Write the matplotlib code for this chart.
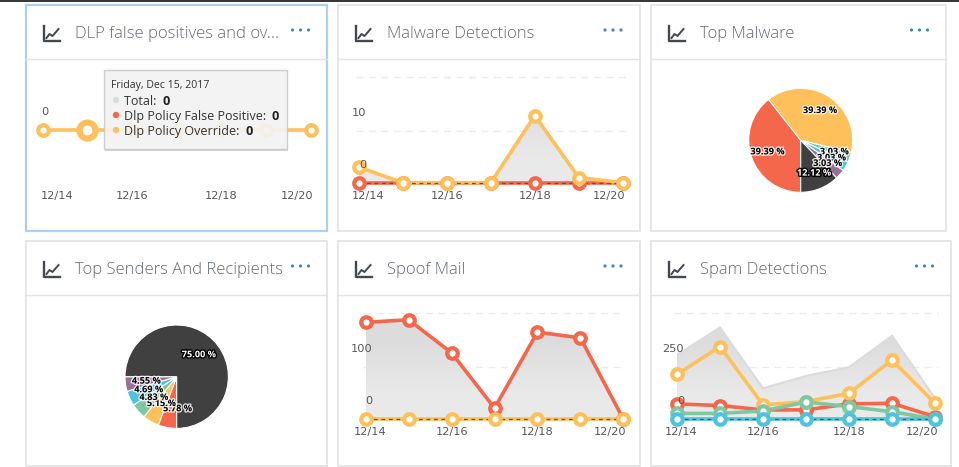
import matplotlib
matplotlib.use("Agg")
import matplotlib.pyplot as plt
import matplotlib.patheffects as pe
from matplotlib.colors import LinearSegmentedColormap
from matplotlib.patches import Rectangle, Circle
from matplotlib.transforms import Affine2D

W, H = 959, 467
plt.rcParams['font.family'] = ['Open Sans', 'DejaVu Sans']

RED = '#f4674a'
YELLOW = '#fec05a'
GREEN = '#7dc8a3'
BLUE = '#4cc4df'
PURPLE = '#9a6e9b'
DARK = '#404040'

days = [0, 1, 2, 3, 4, 5, 6]
date_ticks = [0, 2, 4, 6]
date_labels = ['12/14', '12/16', '12/18', '12/20']

dlp_override = [0, 0, 0, 0, 0, 0, 0]

malware_total = [3, 0, 0, 0, 13, 1, 0]
malware_red = [0, 0, 0, 0, 0, 0, 0]
malware_yellow = [3, 0, 0, 0, 13, 1, 0]

spoof_total = [187, 192, 128, 21, 168, 157, 0]
spoof_red = [187, 192, 128, 21, 168, 157, 0]
spoof_yellow = [0, 0, 0, 0, 0, 0, 0]

spam_total = [310, 442, 148, 208, 250, 402, 100]
spam_red = [73, 65, 44, 44, 73, 76, 11]
spam_yellow = [216, 350, 68, 84, 124, 285, 76]
spam_green = [27, 27, 39, 82, 60, 35, 0]
spam_blue = [0, 0, 0, 0, 0, 0, 0]

top_malware = [39.39, 39.39, 3.03, 3.03, 3.03, 12.12]
top_malware_colors = [RED, YELLOW, GREEN, BLUE, PURPLE, DARK]
top_senders = [5.78, 5.15, 4.83, 4.69, 4.55, 75.00]
top_senders_colors = [RED, YELLOW, GREEN, BLUE, PURPLE, DARK]

fig = plt.figure(figsize=(W / 100, H / 100), dpi=100)
fill_cmap = LinearSegmentedColormap.from_list('fill', ['#dcdcdc', '#e9e9e9'])


def px_axes(x0, x1, ytop, ybot, **kw):
    return fig.add_axes([x0 / W, 1 - ybot / H, (x1 - x0) / W, (ybot - ytop) / H], **kw)


bg = px_axes(0, W, 0, H, zorder=0)
bg.set_xlim(0, W)
bg.set_ylim(H, 0)
bg.axis('off')
bg.plot([0, W], [0.5, 0.5], color='#111111', lw=1.2)


def card(x0, x1, y0, y1, title, edge='#e2e2e2', lw=1.2):
    bg.add_patch(Rectangle((x0, y0), x1 - x0, y1 - y0, fc='white', ec=edge, lw=lw))
    bg.plot([x0, x1], [y0 + 54, y0 + 54], color='#e4e4e4', lw=1)
    # chart icon
    ix, iy = x0 + 17.5, y0 + 21
    bg.plot([ix, ix, ix + 16], [iy, iy + 15, iy + 15], color='#43484f', lw=1.7)
    bg.plot([ix + 3, ix + 6, ix + 9, ix + 15], [iy + 12, iy + 8, iy + 10, iy + 3], color='#43484f', lw=1.4)
    bg.text(x0 + 49, y0 + 29.5, title, fontsize=12.0, color='#666c75', va='center', ha='left',
            fontweight='light')
    for dx in (0, 8, 16):
        bg.add_patch(Circle((x1 - 34.5 + dx, y0 + 25), 0.9, color='#3f88c5'))


card(338, 639.5, 5, 230.5, 'Malware Detections')
card(651, 946, 5, 230.5, 'Top Malware')
card(26, 327, 241, 466, 'Top Senders And Recipients')
card(338, 639.5, 241, 466, 'Spoof Mail')
card(651, 951, 241, 466, 'Spam Detections')
card(26, 327, 5, 230.5, 'DLP false positives and ov...', edge='#aed0ec', lw=1.6)


def line_chart(x0, x1, ytop, ybot, ylim, yticks, grid, label_dx, series, total=None,
               baseline=True, tick_dx=(-7, 0, 0, 3)):
    ax = px_axes(x0, x1, ytop, ybot, zorder=2)
    ax.patch.set_alpha(0)
    for s in ax.spines.values():
        s.set_visible(False)
    for g in grid:
        ax.plot([-0.07, 6.07], [g, g], color='#ececec', lw=1, dashes=(5, 4), zorder=1, clip_on=False)
    if total is not None:
        area = ax.fill_between(days, 0, total, color='none', lw=0)
        im = ax.imshow([[0.0], [1.0]], cmap=fill_cmap, extent=[0, 6, 0, ylim[1]], aspect='auto',
                       interpolation='bilinear', zorder=1.5)
        im.set_clip_path(area.get_paths()[0], transform=ax.transData)
        ax.plot(days, total, color='#dcdcdc', lw=1.6, zorder=1.6)
    ax.set_xlim(0, 6)
    ax.set_ylim(*ylim)
    for i, (vals, col) in enumerate(series):
        ax.plot(days, vals, color=col, lw=2.6, zorder=3 + i * 0.1, clip_on=False, solid_capstyle='round')
    if baseline:
        ax.plot([0, 6], [0, 0], color='#555555', lw=0.9, dashes=(3, 3), zorder=3.8, clip_on=False)
    for i, (vals, col) in enumerate(series):
        ax.plot(days, vals, ls='none', marker='o', ms=7.6, mew=3, mec=col, mfc='white',
                zorder=4 + i * 0.1, clip_on=False)
    ax.set_xticks(date_ticks, date_labels)
    ax.set_yticks(yticks, [str(t) for t in yticks])
    ax.tick_params(axis='both', length=0, labelcolor='#55585c', labelsize=8.2)
    ax.tick_params(axis='x', pad=6)
    ax.tick_params(axis='y', pad=0)
    ax.yaxis.set_zorder(6)
    for lab, ha, dx in zip(ax.get_xticklabels(), ['left', 'center', 'center', 'right'], tick_dx):
        lab.set_ha(ha)
        lab.set_family(['DejaVu Sans'])
        lab.set_transform(lab.get_transform() + Affine2D().translate(dx, 0))
    for lab in ax.get_yticklabels():
        lab.set_family(['DejaVu Sans'])
        lab.set_transform(lab.get_transform() + Affine2D().translate(label_dx, 19))
    return ax


dlp_ax = line_chart(42.7, 310.7, 77, 183, (-1, 1), [0], [], 6, [(dlp_override, YELLOW)],
                    baseline=False, tick_dx=(-2, 0, 0, 3))
dlp_ax.plot(days[1], dlp_override[1], ls='none', marker='o', ms=11.5, mew=4.4, mec=YELLOW, mfc='white',
            zorder=5, clip_on=False)

line_chart(359, 622.7, 77, 182.7, (0, 20.5), [0, 10], [10, 20.5], 7,
           [(malware_red, RED), (malware_yellow, YELLOW)], total=malware_total)
line_chart(365.7, 623.3, 313.3, 419, (0, 204.5), [0, 100], [100, 204.5], 7,
           [(spoof_red, RED), (spoof_yellow, YELLOW)], total=spoof_total, tick_dx=(-12, 0, 0, 3))
line_chart(677, 935, 313.3, 419, (0, 511), [0, 250], [250, 511], 7,
           [(spam_red, RED), (spam_yellow, YELLOW), (spam_green, GREEN), (spam_blue, BLUE)],
           total=spam_total, tick_dx=(-12, 0, 0, 3))


def pie_chart(cx, cy, r, values, colors, pct_dist):
    ax = px_axes(cx - r, cx + r, cy - r, cy + r, zorder=2)
    wedges, _, autos = ax.pie(values, colors=colors, startangle=-90, counterclock=False, radius=1,
                              autopct='%.2f %%', pctdistance=pct_dist,
                              wedgeprops=dict(edgecolor='white', linewidth=0.8),
                              textprops=dict(fontsize=6.6, fontweight='bold'))
    ax.set_xlim(-1, 1)
    ax.set_ylim(-1, 1)
    for t, col in zip(autos, colors):
        if col == DARK:
            t.set_color('white')
            t.set_path_effects([pe.withStroke(linewidth=2, foreground='black')])
        else:
            t.set_color('black')
            t.set_path_effects([pe.withStroke(linewidth=2, foreground='white', alpha=0.8)])
    return autos


pie_chart(800.7, 140.3, 52, top_malware, top_malware_colors, 0.68)
senders_text = pie_chart(176.7, 376.7, 51.7, top_senders, top_senders_colors, 0.6)
# first label sits right of its slice in the original
sx, sy = senders_text[0].get_position()
senders_text[0].set_position((sx + 0.12, sy - 0.03))

# tooltip sits above the DLP chart, slightly see-through
top = px_axes(0, W, 0, H, zorder=5)
top.patch.set_alpha(0)
top.set_xlim(0, W)
top.set_ylim(H, 0)
top.axis('off')
top.add_patch(Rectangle((105, 71), 183, 80, fc='#888888', alpha=0.35, lw=0))
top.add_patch(Rectangle((104, 69.5), 183, 79, fc='#f8f8f8', ec='#c9c9c9', lw=1, alpha=0.88))
top.text(111, 85.5, 'Friday, Dec 15, 2017', fontsize=7.6, color='#333333', va='center')
tip_rows = [('Total: ', '0', '#dcdcdc', 100), ('Dlp Policy False Positive: ', '0', RED, 115),
            ('Dlp Policy Override: ', '0', YELLOW, 130)]
for name, val, col, y in tip_rows:
    top.add_patch(Circle((116, y), 3.2, color=col, lw=0))
    t = top.text(124.5, y, name, fontsize=9.0, color='#333333', va='center_baseline')
    bb = t.get_window_extent(fig.canvas.get_renderer())
    top.text(bb.x1 + 2, y, val, fontsize=9.2, fontweight='bold', color='#222222', va='center_baseline')

fig.savefig('out.png', dpi=100)
